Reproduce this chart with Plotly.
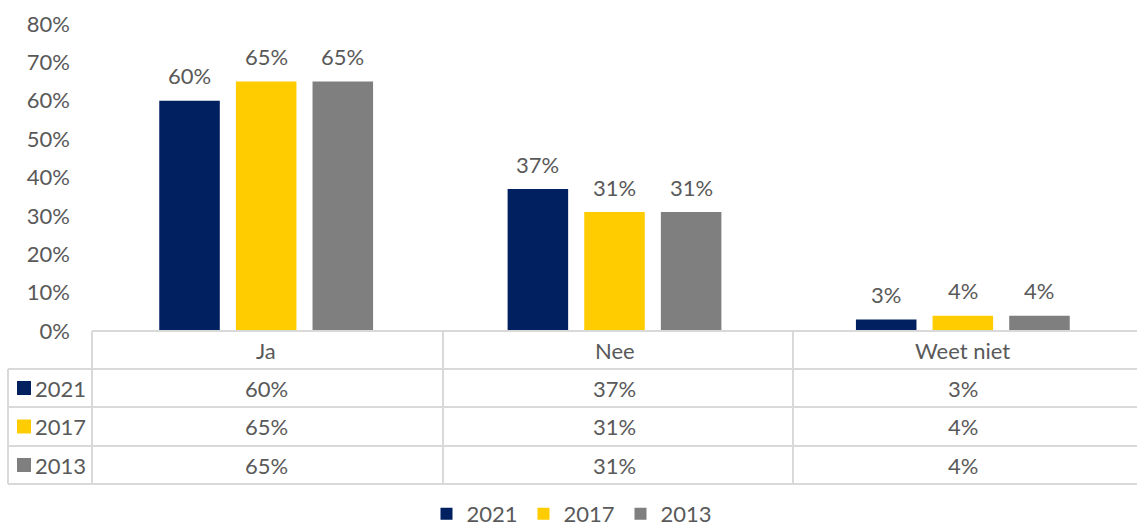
import plotly.graph_objects as go

categories = ["Ja", "Nee", "Weet niet"]
years = ["2021", "2017", "2013"]
values_2021 = [60, 37, 3]
values_2017 = [65, 31, 4]
values_2013 = [65, 31, 4]
series = [values_2021, values_2017, values_2013]
colors = ["#002060", "#FFCC00", "#7F7F7F"]
y_ticks = [0, 10, 20, 30, 40, 50, 60, 70, 80]

W, H = 1137, 528
L, R, T, B = 92, 0, 24, 197
plot_w = W - L - R
plot_h = H - T - B
FONT = "Lato"
FS = 22
TXT = "#595959"
GRID = "#D9D9D9"

bargap = 0.34
slot = (1 - bargap) / 3


def px_y(p):
    """pixel row -> paper y"""
    return (H - B - p) / plot_h


def px_x(p):
    """pixel column -> paper x"""
    return (p - L) / plot_w


fig = go.Figure()
for name, vals, col in zip(years, series, colors):
    fig.add_trace(go.Bar(
        x=categories, y=vals, name=name, marker_color=col,
        marker_line_width=0,
    ))

annotations = []
# value labels above bars
for k, vals in enumerate(series):
    for i, v in enumerate(vals):
        annotations.append(dict(
            x=i + (k - 1) * slot, y=v, xref="x", yref="y",
            text=f"{v}%", showarrow=False, yanchor="middle", yshift=25,
            font=dict(family=FONT, size=FS, color=TXT),
        ))

# data table below the chart
row_edges = [331, 369, 407, 446, 484]
col_edges = [92, 443, 793, 1137]
shapes = []
line = dict(color=GRID, width=2)
# horizontal lines
shapes.append(dict(type="line", xref="paper", yref="paper",
                   x0=px_x(92), x1=px_x(1137), y0=px_y(331), y1=px_y(331), line=line))
for r in row_edges[1:]:
    shapes.append(dict(type="line", xref="paper", yref="paper",
                       x0=px_x(8), x1=px_x(1137), y0=px_y(r), y1=px_y(r), line=line))
# vertical lines
for c in col_edges[:-1]:
    shapes.append(dict(type="line", xref="paper", yref="paper",
                       x0=px_x(c), x1=px_x(c), y0=px_y(331), y1=px_y(484), line=line))
shapes.append(dict(type="line", xref="paper", yref="paper",
                   x0=px_x(8), x1=px_x(8), y0=px_y(369), y1=px_y(484), line=line))

# header row
for i, cat in enumerate(categories):
    annotations.append(dict(
        x=i, y=px_y((row_edges[0] + row_edges[1]) / 2), xref="x", yref="paper",
        text=cat, showarrow=False, yanchor="middle",
        font=dict(family=FONT, size=FS, color=TXT),
    ))
# body rows
for k, (name, vals, col) in enumerate(zip(years, series, colors)):
    yc = (row_edges[k + 1] + row_edges[k + 2]) / 2
    shapes.append(dict(type="rect", xref="paper", yref="paper",
                       x0=px_x(17), x1=px_x(31), y0=px_y(yc + 7), y1=px_y(yc - 7),
                       fillcolor=col, line_width=0))
    annotations.append(dict(
        x=px_x(33), y=px_y(yc), xref="paper", yref="paper",
        text=name, showarrow=False, xanchor="left", yanchor="middle",
        font=dict(family=FONT, size=FS, color=TXT),
    ))
    for i, v in enumerate(vals):
        annotations.append(dict(
            x=i, y=px_y(yc), xref="x", yref="paper",
            text=f"{v}%", showarrow=False, yanchor="middle",
            font=dict(family=FONT, size=FS, color=TXT),
        ))

fig.update_layout(
    width=W, height=H,
    margin=dict(l=L, r=R, t=T, b=B, autoexpand=False),
    paper_bgcolor="white", plot_bgcolor="white",
    barmode="group", bargap=bargap, bargroupgap=0.21,
    font=dict(family=FONT, size=FS, color=TXT),
    xaxis=dict(showticklabels=False, showgrid=False, zeroline=False,
               showline=False, range=[-0.5, 2.5]),
    yaxis=dict(range=[0, 80], tickvals=y_ticks, ticktext=[f"{t}%" for t in y_ticks],
               showgrid=False, zeroline=False, showline=False, ticks="",
               ticklabelstandoff=21, tickfont=dict(family=FONT, size=FS, color=TXT)),
    showlegend=True,
    legend=dict(orientation="h", x=px_x(572), xanchor="center", y=px_y(514),
                yanchor="middle", font=dict(family=FONT, size=FS, color=TXT),
                itemwidth=30, entrywidth=52, entrywidthmode="pixels",
                traceorder="normal", tracegroupgap=0),
    shapes=shapes, annotations=annotations,
)

fig.write_html("out.html")
